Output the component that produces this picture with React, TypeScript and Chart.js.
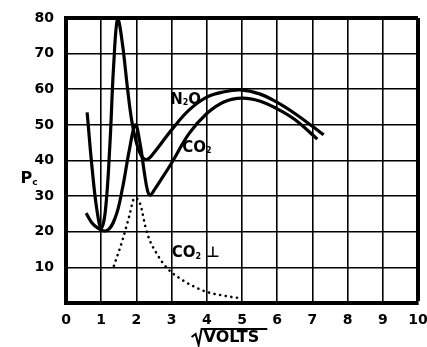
import { useEffect, useRef } from 'react';
import { Chart, registerables } from 'chart.js';
Chart.register(...registerables);

// sqrt(volts) positions and Pc values
const n2oX = [0.6, 0.75, 0.88, 1.0, 1.12, 1.25, 1.35, 1.47, 1.6, 1.75, 1.87, 2.0, 2.15, 2.3, 2.5, 3.0, 3.5, 4.0, 4.5, 4.95, 5.5, 6.0, 6.5, 7.0, 7.32];
const n2oY = [53.5, 37, 26, 21, 26, 45, 66, 80, 73, 60, 51, 45, 41.2, 40.3, 42.2, 48.6, 54.2, 57.8, 59.3, 59.8, 58.7, 56.3, 53.2, 49.6, 47.2];

const co2X = [0.57, 0.8, 1.15, 1.4, 1.6, 1.8, 1.97, 2.1, 2.22, 2.32, 2.4, 2.5, 2.7, 3.0, 3.5, 4.0, 4.5, 5.0, 5.5, 6.0, 6.5, 7.14];
const co2Y = [25.2, 21.8, 20.3, 24, 32, 43, 50, 45, 37, 31.4, 30.3, 31.6, 34.6, 39.3, 47.6, 53.2, 56.5, 57.5, 56.7, 54.5, 51.5, 46];

const co2PerpX = [1.36, 1.6, 1.8, 1.95, 2.1, 2.3, 2.6, 2.9, 3.3, 3.7, 4.0, 4.4, 4.7, 4.93];
const co2PerpY = [10.4, 17.5, 24.5, 29.5, 28, 19.7, 13.5, 9.5, 6.5, 4.3, 3.1, 2.2, 1.7, 1.4];

const xTickValues = [0, 1, 2, 3, 4, 5, 6, 7, 8, 9, 10];
const yTickValues = [0, 10, 20, 30, 40, 50, 60, 70, 80];

const seriesLabels = ['N2O', 'CO2', 'CO2 ⊥'];
const xAxisTitle = 'VOLTS';
const yAxisTitle = 'P';

const FONT = '"DejaVu Sans", "Liberation Sans", sans-serif';

function toPoints(xs: number[], ys: number[]) {
  return xs.map((x, i) => ({ x, y: ys[i] }));
}

type Part = [string, boolean];

function drawParts(ctx: CanvasRenderingContext2D, parts: Part[], cx: number, cy: number, size: number) {
  const big = `bold ${size}px ${FONT}`;
  const small = `bold ${Math.round(size * 0.55)}px ${FONT}`;
  let total = 0;
  const widths = parts.map(([t, sub]) => {
    ctx.font = sub ? small : big;
    const w = ctx.measureText(t).width;
    total += w;
    return w;
  });
  let x = cx - total / 2;
  ctx.textBaseline = 'middle';
  ctx.textAlign = 'left';
  parts.forEach(([t, sub], i) => {
    ctx.font = sub ? small : big;
    ctx.fillText(t, x, sub ? cy + size * 0.22 : cy);
    x += widths[i];
  });
}

const overlay = {
  id: 'overlay',
  afterDraw(chart: any) {
    const { ctx, scales } = chart;
    const xs = scales.x;
    const ys = scales.y;
    ctx.save();
    ctx.fillStyle = '#000';
    // curve labels
    drawParts(ctx, [['N', false], ['2', true], ['O', false]], xs.getPixelForValue(3.4), ys.getPixelForValue(57), 15);
    drawParts(ctx, [['CO', false], ['2', true]], xs.getPixelForValue(3.72), ys.getPixelForValue(43.5), 15);
    drawParts(ctx, [['CO', false], ['2', true], [' ⊥', false]], xs.getPixelForValue(3.69), ys.getPixelForValue(14), 15);
    // y axis title
    drawParts(ctx, [[yAxisTitle, false], ['c', true]], 29, 179, 16);
    // x axis title with radical
    const cx = xs.getPixelForValue(4.7);
    ctx.font = `bold 16px ${FONT}`;
    ctx.textAlign = 'center';
    ctx.textBaseline = 'middle';
    const tw = ctx.measureText(xAxisTitle).width;
    const ty = 338;
    ctx.fillText(xAxisTitle, cx, ty);
    const left = cx - tw / 2;
    ctx.lineWidth = 2;
    ctx.strokeStyle = '#000';
    ctx.beginPath();
    ctx.moveTo(left - 12, ty - 1);
    ctx.lineTo(left - 8, ty - 4);
    ctx.lineTo(left - 5, ty + 7);
    ctx.lineTo(left - 2, ty - 9);
    ctx.lineTo(left + tw + 8, ty - 9);
    ctx.stroke();
    ctx.restore();
  },
};

export default function App() {
  const ref = useRef<HTMLCanvasElement | null>(null);
  useEffect(() => {
    if (!ref.current) return;
    const chart = new Chart(ref.current, {
      type: 'line',
      data: {
        datasets: [
          {
            label: seriesLabels[0],
            data: toPoints(n2oX, n2oY),
            borderColor: '#000',
            borderWidth: 3.2,
            pointRadius: 0,
            tension: 0.4,
            clip: 10,
          },
          {
            label: seriesLabels[1],
            data: toPoints(co2X, co2Y),
            borderColor: '#000',
            borderWidth: 3.2,
            pointRadius: 0,
            tension: 0.4,
            clip: 10,
          },
          {
            label: seriesLabels[2],
            data: toPoints(co2PerpX, co2PerpY),
            borderColor: '#000',
            borderWidth: 2.6,
            borderDash: [0.1, 5.6],
            borderCapStyle: 'round',
            pointRadius: 0,
            cubicInterpolationMode: 'monotone',
            clip: 10,
          },
        ],
      },
      options: {
        responsive: false,
        animation: false,
        layout: { padding: { top: 18, right: 9, left: 0, bottom: 0 } },
        plugins: { legend: { display: false }, tooltip: { enabled: false } },
        scales: {
          x: {
            type: 'linear',
            min: 0,
            max: 10,
            afterBuildTicks: (s: any) => { s.ticks = xTickValues.map((v) => ({ value: v })); },
            afterFit: (s: any) => { s.height = 44; s.paddingLeft = 0; s.paddingRight = 0; },
            ticks: { color: '#000', padding: 9, font: { family: FONT, weight: 'bold', size: 14 }, maxRotation: 0, autoSkip: false },
            grid: {
              color: '#000',
              drawTicks: false,
              lineWidth: (c: any) => (c.tick && c.tick.value === 10 ? 4 : 1.6),
            },
            border: { color: '#000', width: 4 },
          },
          y: {
            min: 0,
            max: 80,
            afterBuildTicks: (s: any) => { s.ticks = yTickValues.map((v) => ({ value: v })); },
            afterFit: (s: any) => { s.width = 66; s.paddingTop = 0; s.paddingBottom = 0; },
            ticks: {
              color: '#000',
              padding: 12,
              font: { family: FONT, weight: 'bold', size: 14 },
              callback: (v: any) => (v === 0 ? '' : String(v)),
            },
            grid: {
              color: '#000',
              drawTicks: false,
              lineWidth: (c: any) => (c.tick && c.tick.value === 80 ? 4 : 1.6),
            },
            border: { color: '#000', width: 4 },
          },
        },
      },
      plugins: [overlay],
    } as any);
    return () => chart.destroy();
  }, []);
  return (
    <div style={{ position: 'fixed', left: 0, top: 0, width: 427, height: 347, background: '#fff' }}>
      <canvas ref={ref} width={427} height={347} />
    </div>
  );
}
